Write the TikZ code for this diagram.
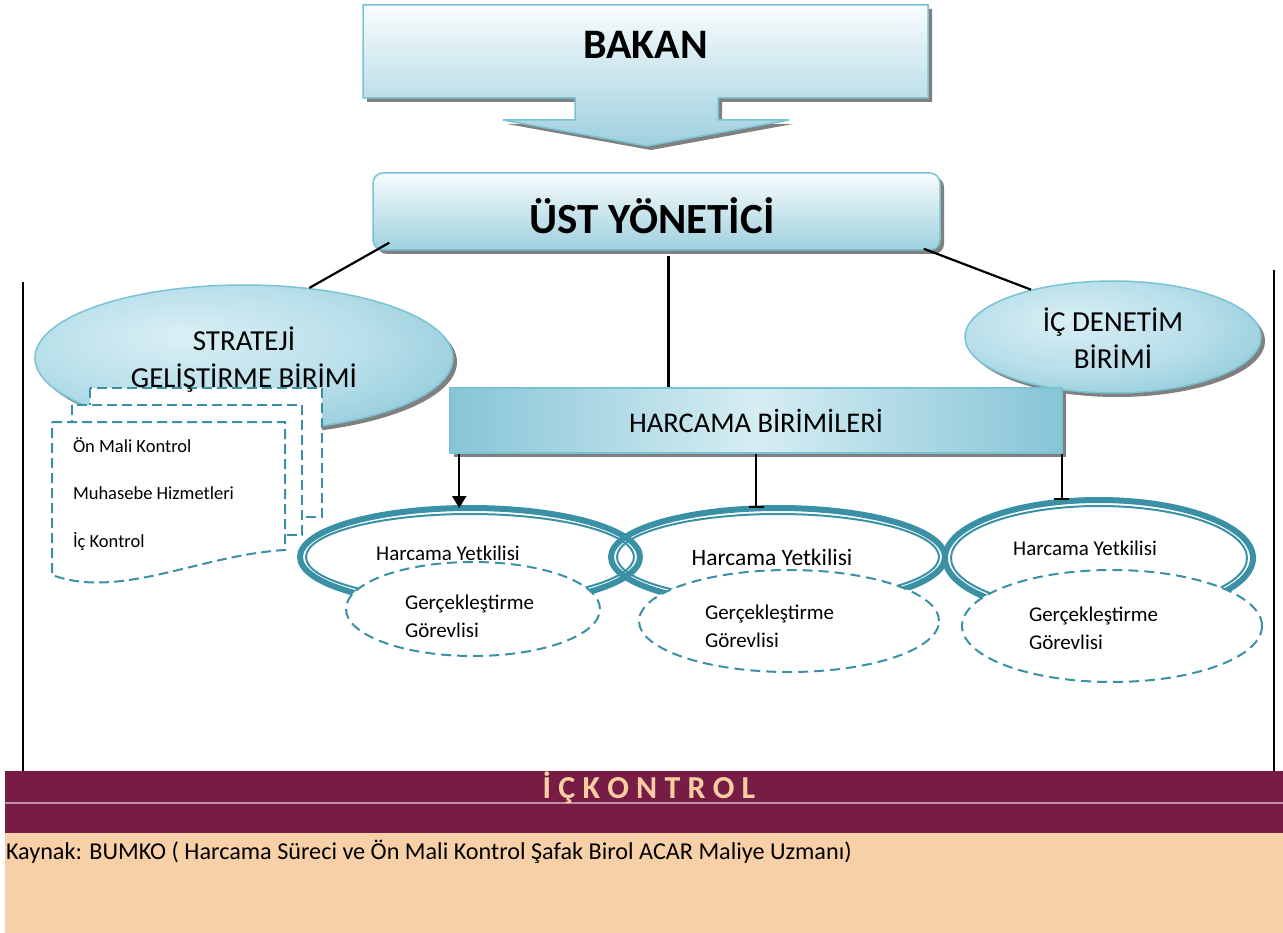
\documentclass[tikz,border=0pt]{standalone}
\usepackage{fontspec}
\setmainfont{Carlito}
\usetikzlibrary{shapes.geometric,shadows,arrows.meta,calc}
\definecolor{ringc}{RGB}{58,144,165}
\definecolor{edgec}{RGB}{122,195,213}
\definecolor{lightc}{RGB}{248,252,253}
\definecolor{darkc}{RGB}{158,208,222}
\definecolor{ellA}{RGB}{218,239,245}
\definecolor{ellB}{RGB}{184,223,234}
\definecolor{ellC}{RGB}{136,197,214}
\definecolor{hsideC}{RGB}{134,197,214}
\definecolor{hmidC}{RGB}{214,237,243}
\definecolor{maroonc}{RGB}{119,29,69}
\definecolor{maroonline}{RGB}{196,140,165}
\definecolor{peachc}{RGB}{248,208,168}
\definecolor{peachtxt}{RGB}{250,206,160}
\definecolor{shadowc}{RGB}{128,128,128}
\pgfdeclareradialshading{ellshade}{\pgfpoint{-8bp}{8bp}}{color(0bp)=(ellA); color(20bp)=(ellB); color(38bp)=(ellC); color(60bp)=(ellC)}
\newcommand{\myfs}[1]{\fontsize{#1}{#1}\selectfont}
\begin{document}
\begin{tikzpicture}[x=1pt,y=-1pt,
  shd/.style={drop shadow={shadow xshift=4pt,shadow yshift=-4pt,fill=shadowc,opacity=1}},
  boxfill/.style={top color=lightc,bottom color=darkc,draw=edgec,line width=1.5pt},
  ellfill/.style={ellipse,shading=ellshade,draw=edgec,line width=1.5pt,shd,inner sep=0pt},
  ringn/.style={ellipse,draw=ringc,line width=6pt,inner sep=0pt,outer sep=0pt},
  ringin/.style={draw=ringc,line width=2pt},
  dashell/.style={ellipse,draw=ringc,fill=white,line width=2pt,dash pattern=on 10pt off 6pt,inner sep=0pt},
  docbox/.style={draw=ringc,fill=white,line width=2pt,dash pattern=on 10pt off 5pt},
  conn/.style={draw=black,line width=2.2pt},
  txt/.style={inner sep=0pt,outer sep=0pt}
]
\useasboundingbox (0,0) rectangle (1283,933);

% BAKAN arrow box
\fill[shadowc,shift={(4,4)}] (363,5) -- (928,5) -- (928,98) -- (718,98) -- (718,120) -- (789,120) -- (647,146) -- (503,120) -- (575,120) -- (575,98) -- (363,98) -- cycle;
\path[boxfill] (363,5) -- (928,5) -- (928,98) -- (718,98) -- (718,120) -- (789,120) -- (647,146) -- (503,120) -- (575,120) -- (575,98) -- (363,98) -- cycle;
\node[txt] (bakan) at (645.5,45) {\bfseries\myfs{42}BAKAN};
\coordinate (tip) at (647,146);

% UST YONETICI
\node[rectangle,rounded corners=10pt,minimum width=567pt,minimum height=77pt,boxfill,shd,inner sep=0pt] (ust) at (656.5,211.5) {};
\node[txt] (usttxt) at (652,216) {\bfseries\myfs{43}ÜST YÖNETİCİ};

% side vertical lines
\draw[line width=1.5pt] (23,282) -- (23,771);
\draw[line width=1.5pt] (1274,270) -- (1274,771);

% ellipses
\node[ellfill,minimum width=418pt,minimum height=146pt] (str) at (244,358) {};
\node[ellfill,minimum width=296pt,minimum height=112pt] (ic) at (1113,337) {};
\node[txt,align=center,font=\fontsize{29}{37}\selectfont] (ictxt) at (1113,338) {İÇ DENETİM\\BİRİMİ};

% HARCAMA BIRIMILERI
\node[rectangle,minimum width=612pt,minimum height=65pt,left color=hsideC,right color=hsideC,middle color=hmidC,draw=edgec,line width=1.5pt,shd,inner sep=0pt] (harc) at (756,420.5) {\myfs{28.5}HARCAMA BİRİMİLERİ};

% connectors from UST
\draw[conn] ([xshift=17pt,yshift=8pt]ust.south west) -- (str.47);
\draw[conn] ([xshift=12pt,yshift=-5pt]ust.south) -- ([xshift=12pt]ust.south |- harc.north);
\draw[conn] ([xshift=-17pt,yshift=2pt]ust.south east) -- (ic.150);

% rings
\node[ringn,minimum width=340pt,minimum height=98pt] (r1) at (470,557) {};
\draw[ringin] (r1.center) ellipse [x radius=164, y radius=43];
\node[ringn,minimum width=334pt,minimum height=98pt] (r2) at (778,557) {};
\draw[ringin] (r2.center) ellipse [x radius=161, y radius=43];
\node[ringn,minimum width=308pt,minimum height=116pt] (r3) at (1099,558) {};
\draw[ringin] (r3.center) ellipse [x radius=148, y radius=52];

% dashed ellipses
\node[dashell,minimum width=254pt,minimum height=94pt] (d1) at (473,609) {};
\node[dashell,minimum width=300pt,minimum height=102pt] (d2) at (789,621) {};
\node[dashell,minimum width=300pt,minimum height=112pt] (d3) at (1112,626) {};

% ring texts
\node[txt] (h1) at (448,553) {\myfs{21}Harcama Yetkilisi};
\node[txt] (h2) at (772,557) {\myfs{23.5}Harcama Yetkilisi};
\node[txt] (h3) at (1085,548) {\myfs{21}Harcama Yetkilisi};
\node[txt,anchor=west,align=left,font=\fontsize{21}{28}\selectfont] (g1) at (405,616) {Gerçekleştirme\\Görevlisi};
\node[txt,anchor=west,align=left,font=\fontsize{21}{28}\selectfont] (g2) at (705,626) {Gerçekleştirme\\Görevlisi};
\node[txt,anchor=west,align=left,font=\fontsize{21}{28}\selectfont] (g3) at (1029,628) {Gerçekleştirme\\Görevlisi};

% arrows from HARCAMA
\draw[conn,-{Triangle[width=14pt,length=12pt]}] ([xshift=10pt]harc.south west) -- ([xshift=10pt]harc.south west |- r1.north);
\draw[conn,-{Bar[width=15pt]}] (harc.south) -- (harc.south |- r2.north);
\draw[conn,-{Bar[width=15pt]}] ([xshift=-1pt]harc.south east) -- ([xshift=-1pt]harc.south east |- r3.north);

% document stack
\draw[docbox] (90,388) rectangle (322,517);
\draw[docbox] (72,405) rectangle (302,535);
\draw[docbox] (52,422) -- (285,422) -- (285,550) .. controls (200,555) and (120,600) .. (52,575) -- cycle;
\node[txt,anchor=west] (n1) at (73,445) {\myfs{18.5}Ön Mali Kontrol};
\node[txt,anchor=west] (n2) at (73,493) {\myfs{18.5}Muhasebe Hizmetleri};
\node[txt,anchor=west] (n3) at (73,542) {\myfs{18.5}İç Kontrol};

% strateji text
\node[txt,align=center,font=\fontsize{29}{37}\selectfont] (strtxt) at (244,360) {STRATEJİ\\GELİŞTİRME BİRİMİ};

% bottom bands
\fill[maroonc] (5,771) rectangle (1283,833);
\draw[maroonline,line width=1.5pt] (5,803) -- (1283,803);
\node[txt,text=peachtxt] (ick) at (649,788) {\bfseries\myfs{32}İ Ç K O N T R O L};
\fill[peachc] (5,833) rectangle (1283,933);
\node[txt,anchor=west] (kay) at (6,852) {\myfs{24.2}Kaynak: BUMKO ( Harcama Süreci ve Ön Mali Kontrol Şafak Birol ACAR Maliye Uzmanı)};
\end{tikzpicture}
\end{document}
